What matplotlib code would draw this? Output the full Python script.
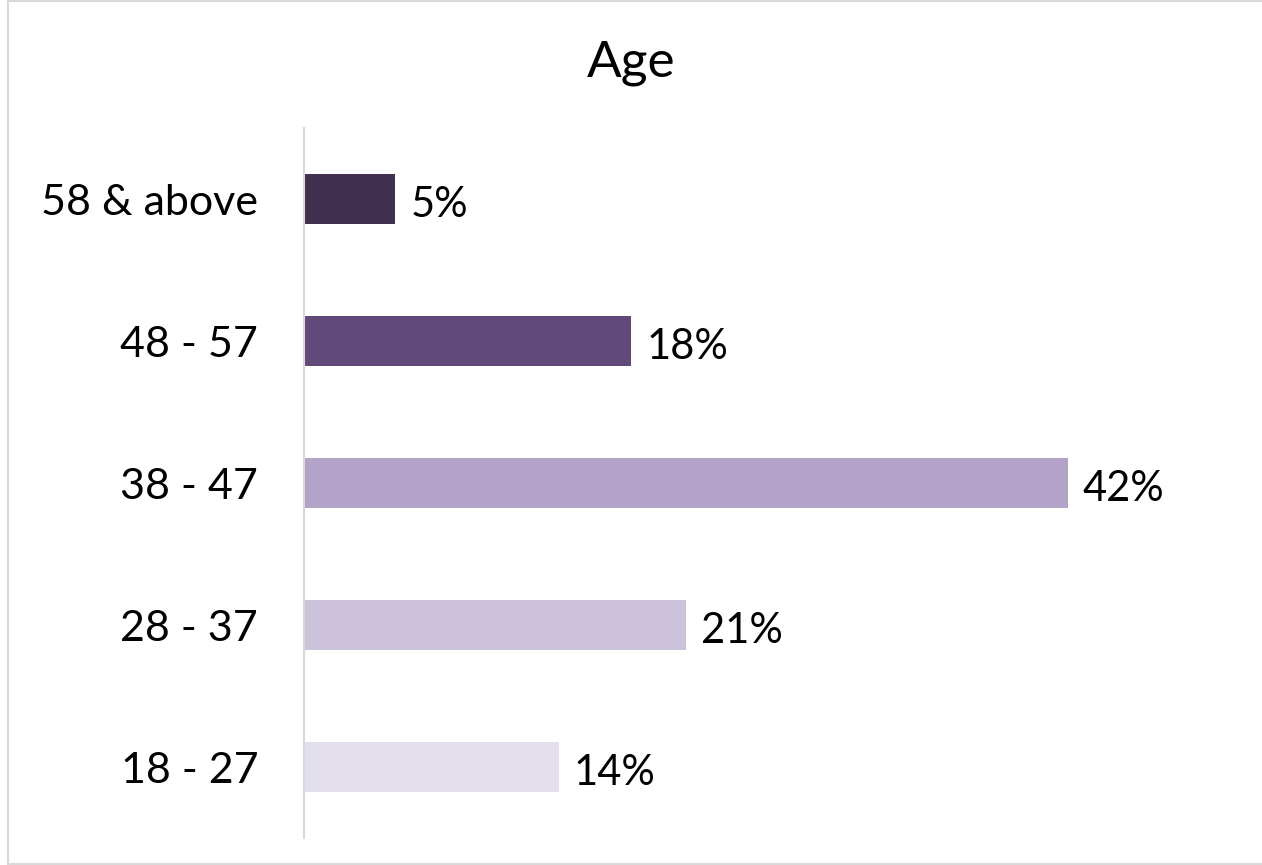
import matplotlib.pyplot as plt
from matplotlib.lines import Line2D

categories = ['18 - 27', '28 - 37', '38 - 47', '48 - 57', '58 & above']
values = [14, 21, 42, 18, 5]
colors = ['#e4dfec', '#ccc2dc', '#b3a3c8', '#614a7a', '#413050']

plt.rcParams['font.family'] = ['Lato', 'DejaVu Sans']

fig = plt.figure(figsize=(12.62, 8.65), dpi=100)
ax = fig.add_axes([0.2409, 0.0312, 0.7203, 0.8208])

bars = ax.barh(range(len(categories)), values, height=0.35, color=colors)
ax.set_ylim(-0.5, len(categories) - 0.5)
ax.set_xlim(0, 50)
ax.set_yticks(range(len(categories)))
ax.set_yticklabels(categories, fontsize=31)
ax.tick_params(axis='y', length=0, pad=33)
ax.set_xticks([])
for s in ['top', 'right', 'bottom']:
    ax.spines[s].set_visible(False)
ax.spines['left'].set_color('#d9d9d9')
ax.spines['left'].set_linewidth(1.5)

for i, v in enumerate(values):
    ax.annotate(f'{v}%', (v, i), xytext=(11, -4), textcoords='offset points',
                ha='left', va='center', fontsize=30)

fig.text(0.5, 1 - 63 / 865, 'Age', ha='center', va='center', fontsize=37)

# light chart border
fig.add_artist(Line2D([8 / 1262, 8 / 1262], [1 / 865, 1 - 1 / 865], color='#d9d9d9', lw=1.5))
fig.add_artist(Line2D([8 / 1262, 1], [1 - 1 / 865, 1 - 1 / 865], color='#d9d9d9', lw=1.5))
fig.add_artist(Line2D([8 / 1262, 1], [1 / 865, 1 / 865], color='#d9d9d9', lw=1.5))

fig.savefig('out.png', dpi=100)
